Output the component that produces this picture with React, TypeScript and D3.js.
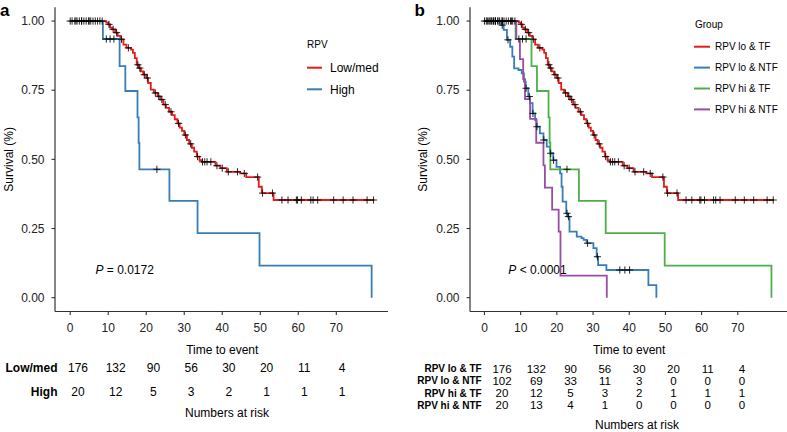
import React from "react";
import * as d3 from "d3";

// ---------- DATA ----------
const xTicks = [0, 10, 20, 30, 40, 50, 60, 70];
const yTicks = [0, 0.25, 0.5, 0.75, 1];

// RPV low/med (= RPV lo & TF)
const redTimes = [0, 9.5, 10.0, 10.5, 11.0, 11.8, 12.5, 13.2, 14.0, 14.8, 16.0, 16.5, 17.0, 17.5, 18.0, 18.6, 19.2, 20.0, 20.5, 21.2, 22.0, 23.0, 23.7, 24.5, 25.2, 26.0, 26.8, 27.5, 28.2, 28.8, 29.4, 30.0, 30.7, 31.3, 32.0, 32.6, 33.3, 34.0, 34.6, 38.2, 39.5, 41.2, 44.7, 46.3, 49.6, 50.4, 53.5, 80.0];
const redSurv = [1, 0.994, 0.988, 0.976, 0.970, 0.958, 0.946, 0.934, 0.915, 0.903, 0.897, 0.885, 0.866, 0.842, 0.830, 0.818, 0.806, 0.794, 0.776, 0.752, 0.740, 0.728, 0.716, 0.698, 0.686, 0.672, 0.660, 0.645, 0.630, 0.615, 0.603, 0.588, 0.570, 0.556, 0.542, 0.528, 0.510, 0.497, 0.491, 0.477, 0.468, 0.455, 0.449, 0.436, 0.401, 0.378, 0.353, 0.353];
const redCensor = [0, 0.5, 1.2, 1.8, 2.4, 3.0, 3.6, 4.2, 4.8, 5.4, 6.0, 6.6, 7.2, 7.8, 8.4, 10.2, 11.3, 12.2, 13.5, 15.3, 17.8, 18.3, 19.5, 20.3, 22.4, 23.3, 24.1, 25.0, 26.5, 28.5, 30.3, 31.7, 33.5, 34.8, 35.4, 36.0, 37.0, 38.6, 40.0, 41.6, 44.0, 45.8, 49.3, 50.6, 53.2, 55.7, 57.3, 59.5, 59.8, 60.8, 63.3, 63.9, 65.1, 69.3, 71.8, 74.4, 78.1, 79.8];

// RPV high (= RPV hi & TF)
const highTimes = [0, 8.6, 13.0, 14.5, 17.7, 18.0, 18.2, 26.1, 33.5, 49.8, 79.3];
const highSurv = [1, 0.935, 0.837, 0.747, 0.652, 0.560, 0.464, 0.350, 0.233, 0.116, 0];
const highCensor = [1.5, 3.0, 5.0, 9.5, 10.5, 11.5, 22.8];

// RPV lo & NTF
const loNtfTimes = [0, 4.6, 5.3, 6.2, 7.1, 7.7, 8.2, 9.4, 10.3, 10.9, 11.4, 12.1, 12.6, 13.3, 14.0, 14.4, 15.3, 16.3, 17.2, 18.1, 19.0, 19.9, 20.9, 21.3, 21.6, 22.6, 23.0, 23.5, 25.5, 26.8, 27.4, 28.2, 30.1, 31.0, 31.4, 33.7, 45.3, 47.5];
const loNtfSurv = [1, 0.985, 0.968, 0.932, 0.907, 0.871, 0.829, 0.823, 0.811, 0.781, 0.757, 0.727, 0.703, 0.666, 0.642, 0.618, 0.594, 0.570, 0.546, 0.522, 0.497, 0.473, 0.449, 0.401, 0.347, 0.305, 0.293, 0.239, 0.221, 0.215, 0.209, 0.197, 0.179, 0.148, 0.118, 0.100, 0.045, 0];
const loNtfCensor = [0.8, 2.0, 3.0, 4.0, 4.9, 6.5, 11.5, 12.4, 13.4, 14.5, 16.4, 18.3, 19.1, 22.8, 23.2, 28.5, 31.2, 37.4, 38.8, 40.1];

// RPV hi & NTF
const hiNtfTimes = [0, 8.8, 9.8, 10.7, 11.2, 12.6, 14.3, 16.3, 16.7, 18.7, 20.5, 21.0, 33.8];
const hiNtfSurv = [1, 0.935, 0.862, 0.790, 0.718, 0.646, 0.560, 0.478, 0.398, 0.318, 0.239, 0.080, 0];
const hiNtfCensor = [2.5, 7.5];

// Numbers at risk
const riskTimes = [0, 10, 20, 30, 40, 50, 60, 70];
const riskLowMed = [176, 132, 90, 56, 30, 20, 11, 4];
const riskHigh = [20, 12, 5, 3, 2, 1, 1, 1];
const riskLoTF = [176, 132, 90, 56, 30, 20, 11, 4];
const riskLoNTF = [102, 69, 33, 11, 3, 0, 0, 0];
const riskHiTF = [20, 12, 5, 3, 2, 1, 1, 1];
const riskHiNTF = [20, 13, 4, 1, 0, 0, 0, 0];

const legendA = ["Low/med", "High"];
const legendB = ["RPV lo & TF", "RPV lo & NTF", "RPV hi & TF", "RPV hi & NTF"];

// ---------- STYLE ----------
const RED = "#E41A1C";
const BLUE = "#377EB8";
const GREEN = "#4DAF4A";
const PURPLE = "#984EA3";
const FONT = "'Liberation Sans', Arial, Helvetica, sans-serif";
const AXIS = "#333";

const yScale = d3.scaleLinear().domain([-0.05, 1.05]).range([311.5, 7.2]);
const xA = d3.scaleLinear().domain([-4, 83.6]).range([55, 388]);
const xB = d3.scaleLinear().domain([-4, 83.6]).range([470, 787]);
const tA = d3.scaleLinear().domain([0, 70]).range([78, 342]);
const tB = d3.scaleLinear().domain([0, 70]).range([502, 742]);
const fmt = d3.format(".2f");

function stepPath(times: number[], surv: number[], x: any) {
  const pts: [number, number][] = times.map((t, i) => [t, surv[i]]);
  return d3
    .line<[number, number]>()
    .x((d) => x(d[0]))
    .y((d) => yScale(d[1]))
    .curve(d3.curveStepAfter)(pts) as string;
}

function survAt(times: number[], surv: number[], t: number) {
  let s = surv[0];
  for (let i = 0; i < times.length; i++) if (times[i] <= t) s = surv[i];
  return s;
}

function censorPath(times: number[], surv: number[], cens: number[], x: any) {
  return cens
    .map((t) => {
      const cx = x(t);
      const cy = yScale(survAt(times, surv, t));
      return `M${cx - 3.6},${cy}h7.2M${cx},${cy - 3.6}v7.2`;
    })
    .join("");
}

function Axes({ x, left, right }: { x: any; left: number; right: number }) {
  const y0 = yScale(-0.05);
  return (
    <g>
      <line x1={left} x2={left} y1={yScale(1.05)} y2={y0} stroke={AXIS} strokeWidth={1.2} />
      <line x1={left} x2={right} y1={y0} y2={y0} stroke={AXIS} strokeWidth={1.2} />
      {yTicks.map((v) => (
        <g key={v}>
          <line x1={left - 3.5} x2={left} y1={yScale(v)} y2={yScale(v)} stroke={AXIS} strokeWidth={1.1} />
          <text x={left - 10.5} y={yScale(v) + 4.3} textAnchor="end" fontSize={12} fill="#222">
            {fmt(v)}
          </text>
        </g>
      ))}
      {xTicks.map((v) => (
        <g key={v}>
          <line x1={x(v)} x2={x(v)} y1={y0} y2={y0 + 3.5} stroke={AXIS} strokeWidth={1.1} />
          <text x={x(v)} y={332.3} textAnchor="middle" fontSize={12} fill="#222">
            {v}
          </text>
        </g>
      ))}
    </g>
  );
}

export default function App() {
  return (
    <svg
      width={787}
      height={432}
      style={{ position: "absolute", left: 0, top: 0, background: "#fff" }}
      fontFamily={FONT}
    >
      {/* ---------- Panel a ---------- */}
      <text x={0} y={15.5} fontSize={17} fontWeight="bold">a</text>
      <text transform={`translate(12.5,${yScale(0.5)}) rotate(-90)`} textAnchor="middle" fontSize={12}>
        Survival (%)
      </text>
      <Axes x={xA} left={55} right={388} />
      <path d={stepPath(redTimes, redSurv, xA)} fill="none" stroke={RED} strokeWidth={1.8} />
      <path d={stepPath(highTimes, highSurv, xA)} fill="none" stroke={BLUE} strokeWidth={1.8} />
      <path d={censorPath(redTimes, redSurv, redCensor, xA)} stroke="#000" strokeOpacity={0.85} strokeWidth={1} fill="none" />
      <path d={censorPath(highTimes, highSurv, highCensor, xA)} stroke="#000" strokeOpacity={0.85} strokeWidth={1} fill="none" />
      <text x={95.5} y={274.3} fontSize={12}>
        <tspan fontStyle="italic">P</tspan> = 0.0172
      </text>
      {/* legend a */}
      <text x={307} y={47.6} fontSize={10}>RPV</text>
      {legendA.map((l, i) => (
        <g key={l}>
          <line x1={307} x2={322} y1={67.7 + i * 21.6} y2={67.7 + i * 21.6} stroke={[RED, BLUE][i]} strokeWidth={2} />
          <text x={330} y={67.7 + i * 21.6 + 4.3} fontSize={12}>{l}</text>
        </g>
      ))}
      <text x={xA(40)} y={354.3} textAnchor="middle" fontSize={12}>Time to event</text>
      {[riskLowMed, riskHigh].map((row, r) => (
        <g key={r}>
          <text x={57.5} y={372.3 + r * 24} textAnchor="end" fontSize={12} fontWeight="bold">
            {legendA[r]}
          </text>
          {row.map((n, i) => (
            <text key={i} x={tA(riskTimes[i])} y={372.3 + r * 24} textAnchor="middle" fontSize={12}>
              {n}
            </text>
          ))}
        </g>
      ))}
      <text x={227} y={417.3} textAnchor="middle" fontSize={12}>Numbers at risk</text>

      {/* ---------- Panel b ---------- */}
      <text x={414.5} y={15.5} fontSize={17} fontWeight="bold">b</text>
      <text transform={`translate(427,${yScale(0.5)}) rotate(-90)`} textAnchor="middle" fontSize={12}>
        Survival (%)
      </text>
      <Axes x={xB} left={470} right={787} />
      <path d={stepPath(redTimes, redSurv, xB)} fill="none" stroke={RED} strokeWidth={1.8} />
      <path d={stepPath(loNtfTimes, loNtfSurv, xB)} fill="none" stroke={BLUE} strokeWidth={1.8} />
      <path d={stepPath(highTimes, highSurv, xB)} fill="none" stroke={GREEN} strokeWidth={1.8} />
      <path d={stepPath(hiNtfTimes, hiNtfSurv, xB)} fill="none" stroke={PURPLE} strokeWidth={1.8} />
      <path d={censorPath(redTimes, redSurv, redCensor, xB)} stroke="#000" strokeOpacity={0.85} strokeWidth={1} fill="none" />
      <path d={censorPath(loNtfTimes, loNtfSurv, loNtfCensor, xB)} stroke="#000" strokeOpacity={0.85} strokeWidth={1} fill="none" />
      <path d={censorPath(highTimes, highSurv, highCensor, xB)} stroke="#000" strokeOpacity={0.85} strokeWidth={1} fill="none" />
      <path d={censorPath(hiNtfTimes, hiNtfSurv, hiNtfCensor, xB)} stroke="#000" strokeOpacity={0.85} strokeWidth={1} fill="none" />
      <text x={508.3} y={274.3} fontSize={12}>
        <tspan fontStyle="italic">P</tspan> &lt; 0.0001
      </text>
      {/* legend b */}
      <text x={695} y={27.6} fontSize={10}>Group</text>
      {legendB.map((l, i) => (
        <g key={l}>
          <line x1={694} x2={710} y1={46.7 + i * 20.9} y2={46.7 + i * 20.9} stroke={[RED, BLUE, GREEN, PURPLE][i]} strokeWidth={2} />
          <text x={715} y={46.7 + i * 20.9 + 3.6} fontSize={10}>{l}</text>
        </g>
      ))}
      <text x={xB(40)} y={353.8} textAnchor="middle" fontSize={12}>Time to event</text>
      {[riskLoTF, riskLoNTF, riskHiTF, riskHiNTF].map((row, r) => (
        <g key={r}>
          <text x={481.7} y={372.2 + r * 12.25} textAnchor="end" fontSize={10} fontWeight="bold">
            {legendB[r]}
          </text>
          {row.map((n, i) => (
            <text key={i} x={tB(riskTimes[i])} y={372.5 + r * 12.25} textAnchor="middle" fontSize={11.5}>
              {n}
            </text>
          ))}
        </g>
      ))}
      <text x={637} y={429.3} textAnchor="middle" fontSize={12}>Numbers at risk</text>
    </svg>
  );
}
